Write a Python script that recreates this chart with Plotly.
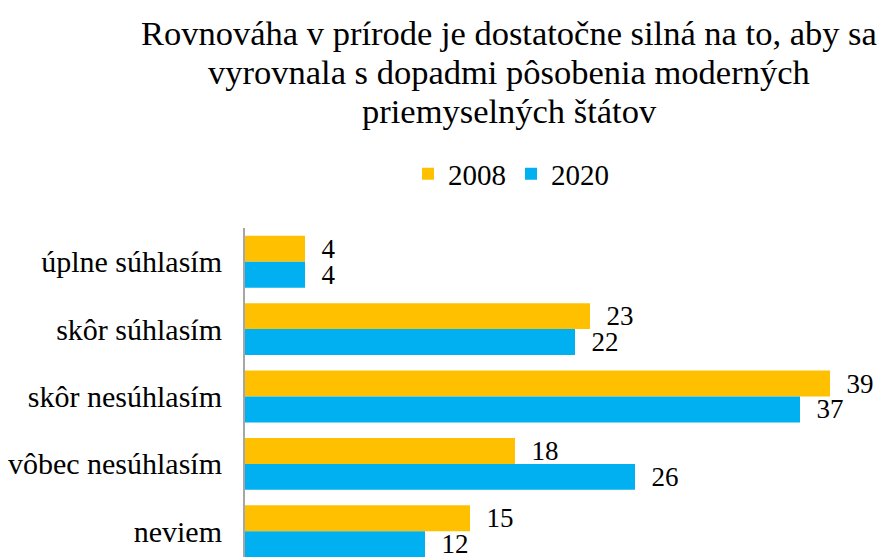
import plotly.graph_objects as go

categories = ["úplne súhlasím", "skôr súhlasím", "skôr nesúhlasím", "vôbec nesúhlasím", "neviem"]
series_names = ["2008", "2020"]
values_2008 = [4, 23, 39, 18, 15]
values_2020 = [4, 22, 37, 26, 12]
colors = ["#FFC000", "#00B0F0"]
title_lines = [
    "Rovnováha v prírode je dostatočne silná na to, aby sa",
    "vyrovnala s dopadmi pôsobenia moderných",
    "priemyselných štátov",
]

# page body has an 8px margin, so figure coords = screen coords - 8
OFF = 8
W, H = 880, 549
L, T, B = 245 - OFF, 228 - OFF, 0
PW = 608
PX_PER_UNIT = 15.0
R = W - L - PW
ph = H - T - B
pw = PW
FONT = "Liberation Serif"
PAD = "\u00a0\u00a0"
CAT_STEP = 67.4  # px per category

fig = go.Figure()
for name, vals, col in zip(series_names, [values_2008, values_2020], colors):
    fig.add_trace(go.Bar(
        y=categories, x=vals, name=name, orientation="h",
        marker=dict(color=col, line=dict(width=0)),
        text=[PAD + str(v) for v in vals], textposition="outside",
        textfont=dict(family=FONT, size=27, color="#000000"),
        constraintext="none",
        cliponaxis=False,
    ))

def py2paper(py):
    return (H - B - (py - OFF)) / ph

def px2paper(px):
    return ((px - OFF) - L) / pw

for line, py in zip(title_lines, [33, 72, 111]):
    fig.add_annotation(
        text=line, xref="paper", yref="paper",
        x=px2paper(509), y=py2paper(py),
        xanchor="center", yanchor="middle", showarrow=False,
        font=dict(family=FONT, size=34.5, color="#000000"),
    )

fig.update_layout(
    width=W, height=H,
    margin=dict(l=L, r=R, t=T, b=B, autoexpand=False),
    paper_bgcolor="white", plot_bgcolor="white",
    barmode="group", bargap=0.23, bargroupgap=0,
    showlegend=True,
    legend=dict(
        orientation="h", x=px2paper(511), y=py2paper(174),
        xanchor="center", yanchor="middle",
        font=dict(family=FONT, size=29, color="#000000"),
        itemwidth=30, traceorder="normal",
    ),
)
fig.update_xaxes(range=[0, PW / PX_PER_UNIT], showgrid=False, zeroline=False,
                 showticklabels=False, showline=False, fixedrange=True)
n_vis = ph / CAT_STEP
fig.update_yaxes(range=[-0.5 + n_vis, -0.5], showgrid=False, zeroline=False,
                 showline=True, linecolor="#A6A6A6", linewidth=2,
                 ticks="", ticklabelstandoff=15, automargin=False,
                 tickfont=dict(family=FONT, size=30, color="#000000"))

fig.write_html("out.html")
